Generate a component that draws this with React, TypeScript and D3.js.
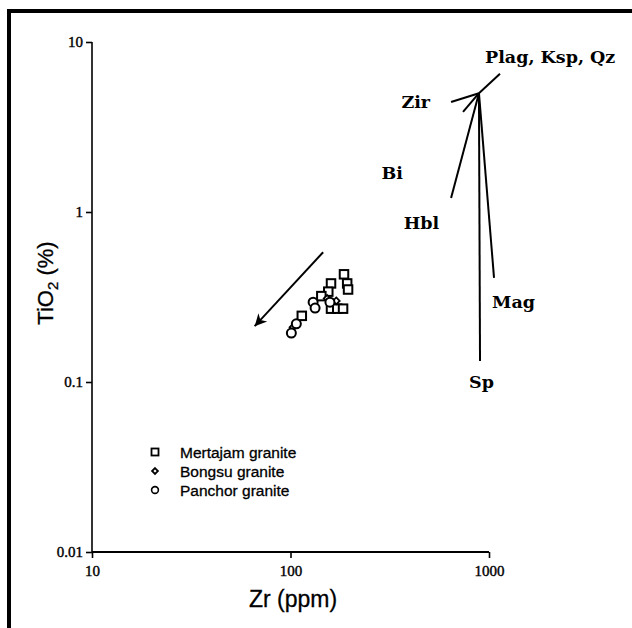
import React, { useEffect, useRef } from "react";
import * as d3 from "d3";

// Zr (ppm) vs TiO2 (%) for the three granites
const mertajamZr = [186, 193, 195, 160, 155, 143, 160, 172, 184, 114];
const mertajamTi = [0.43, 0.38, 0.35, 0.38, 0.34, 0.32, 0.27, 0.27, 0.27, 0.245];
const bongsuZr = [153, 170, 103];
const bongsuTi = [0.31, 0.30, 0.21];
const panchorZr = [130, 133, 158, 107, 101];
const panchorTi = [0.295, 0.272, 0.295, 0.22, 0.194];

// fractionation vectors, all from one origin
const vectorOrigin = [890, 5.0];
const minerals = ["Plag, Ksp, Qz", "Zir", "Bi", "Hbl", "Mag", "Sp"];
const vectorEndZr = [1136, 644, 740, 644, 1060, 901];
const vectorEndTi = [6.5, 4.44, 3.88, 1.21, 0.41, 0.133];
const labelZr = [955, 362, 287, 372, 1036, 793];
const labelTi = [7.52, 4.09, 1.56, 0.794, 0.272, 0.092];

// trend arrow
const arrowFrom = [146, 0.58];
const arrowTo = [66, 0.213];

const zrTicks = [10, 100, 1000];
const tiTicks = [0.01, 0.1, 1, 10];
const zrTickLabels = ["10", "100", "1000"];
const tiTickLabels = ["0.01", "0.1", "1", "10"];

const legendNames = ["Mertajam granite", "Bongsu granite", "Panchor granite"];

const App = () => {
    const container = useRef<SVGSVGElement>(null);

    useEffect(() => {
        const svg = d3.select(container.current);
        svg.selectAll("*").remove();

        const x = d3.scaleLog().domain([10, 1000]).range([92, 489]);
        const y = d3.scaleLog().domain([0.01, 10]).range([552, 42]);

        // frame
        svg.append("rect")
            .attr("x", 9).attr("y", 11)
            .attr("width", 700).attr("height", 700)
            .attr("fill", "none").attr("stroke", "#000").attr("stroke-width", 4);

        // axes
        const yAxis = svg.append("g")
            .attr("transform", "translate(92,0)")
            .call(d3.axisLeft(y).tickValues(tiTicks).tickSize(6).tickPadding(3)
                .tickFormat((d, i) => tiTickLabels[i]));
        yAxis.select(".domain").attr("d", `M0,${y(10)}V${y(0.01)}`).attr("stroke-width", 1.6);
        yAxis.selectAll("line").attr("stroke-width", 1.6);
        yAxis.selectAll("text")
            .attr("font-family", "Liberation Serif").attr("font-size", 15).attr("fill", "#000")
            .attr("stroke", "#000").attr("stroke-width", 0.4);

        const xAxis = svg.append("g")
            .attr("transform", "translate(0,552)")
            .call(d3.axisBottom(x).tickValues(zrTicks).tickSize(6).tickPadding(7)
                .tickFormat((d, i) => zrTickLabels[i]));
        xAxis.select(".domain").attr("d", `M${x(10)},0H${x(1000)}`).attr("stroke-width", 2);
        xAxis.selectAll("line").attr("stroke-width", 1.6);
        xAxis.selectAll("text")
            .attr("font-family", "Liberation Serif").attr("font-size", 15).attr("fill", "#000")
            .attr("stroke", "#000").attr("stroke-width", 0.4);

        // axis titles
        svg.append("text")
            .attr("x", 293).attr("y", 607)
            .attr("text-anchor", "middle")
            .attr("font-family", "Liberation Sans").attr("font-size", 23)
            .attr("stroke", "#000").attr("stroke-width", 0.3)
            .text("Zr (ppm)");

        const yt = svg.append("text")
            .attr("transform", "translate(53,283) rotate(-90)")
            .attr("text-anchor", "middle")
            .attr("font-family", "Liberation Sans").attr("font-size", 22)
            .attr("stroke", "#000").attr("stroke-width", 0.3);
        yt.append("tspan").text("TiO");
        yt.append("tspan").attr("font-size", 15).attr("dy", 5).text("2");
        yt.append("tspan").attr("dy", -5).text(" (%)");

        // vectors
        minerals.forEach((m, i) => {
            svg.append("line")
                .attr("x1", x(vectorOrigin[0])).attr("y1", y(vectorOrigin[1]))
                .attr("x2", x(vectorEndZr[i])).attr("y2", y(vectorEndTi[i]))
                .attr("stroke", "#000").attr("stroke-width", 2);
            svg.append("text")
                .attr("x", x(labelZr[i])).attr("y", y(labelTi[i]))
                .attr("font-family", "DejaVu Serif").attr("font-weight", "bold")
                .attr("font-size", 17.5)
                .text(m);
        });

        // trend arrow
        svg.append("defs").append("marker")
            .attr("id", "head")
            .attr("viewBox", "0 0 10 10")
            .attr("refX", 10).attr("refY", 5)
            .attr("markerWidth", 16).attr("markerHeight", 12)
            .attr("markerUnits", "userSpaceOnUse")
            .attr("orient", "auto")
            .append("path").attr("d", "M0,0L10,5L0,10L3,5Z").attr("fill", "#000");
        svg.append("line")
            .attr("x1", x(arrowFrom[0])).attr("y1", y(arrowFrom[1]))
            .attr("x2", x(arrowTo[0])).attr("y2", y(arrowTo[1]))
            .attr("stroke", "#000").attr("stroke-width", 2)
            .attr("marker-end", "url(#head)");

        // points
        const sq = 8.5;
        svg.append("g").selectAll("rect")
            .data(mertajamZr)
            .enter()
            .append("rect")
            .attr("x", (d) => x(d) - sq / 2)
            .attr("y", (d, i) => y(mertajamTi[i]) - sq / 2)
            .attr("width", sq).attr("height", sq)
            .attr("fill", "#fff").attr("stroke", "#000").attr("stroke-width", 2);

        svg.append("g").selectAll("path")
            .data(bongsuZr)
            .enter()
            .append("path")
            .attr("d", d3.symbol(d3.symbolDiamond2, 30)())
            .attr("transform", (d, i) => `translate(${x(d)},${y(bongsuTi[i])})`)
            .attr("fill", "#fff").attr("stroke", "#000").attr("stroke-width", 1.8);

        svg.append("g").selectAll("circle")
            .data(panchorZr)
            .enter()
            .append("circle")
            .attr("cx", (d) => x(d))
            .attr("cy", (d, i) => y(panchorTi[i]))
            .attr("r", 4.5)
            .attr("fill", "#fff").attr("stroke", "#000").attr("stroke-width", 2);

        // legend
        const lg = svg.append("g").attr("transform", "translate(155,452)");
        lg.append("rect").attr("x", -3.5).attr("y", -3.5).attr("width", 7).attr("height", 7)
            .attr("fill", "#fff").attr("stroke", "#000").attr("stroke-width", 1.8);
        lg.append("path").attr("d", d3.symbol(d3.symbolDiamond2, 22)())
            .attr("transform", "translate(0,19)")
            .attr("fill", "#fff").attr("stroke", "#000").attr("stroke-width", 1.8);
        lg.append("circle").attr("cx", 0).attr("cy", 38).attr("r", 3.4)
            .attr("fill", "#fff").attr("stroke", "#000").attr("stroke-width", 1.6);
        legendNames.forEach((n, i) => {
            lg.append("text")
                .attr("x", 25).attr("y", i * 19 + 5.5)
                .attr("font-family", "Liberation Sans").attr("font-size", 15.5)
                .attr("stroke", "#000").attr("stroke-width", 0.3)
                .text(n);
        });
    }, []);

    return (
        <svg ref={container} width={632} height={628}
            style={{ position: "absolute", left: 0, top: 0, background: "#fff" }}></svg>
    );
};

export default App;
